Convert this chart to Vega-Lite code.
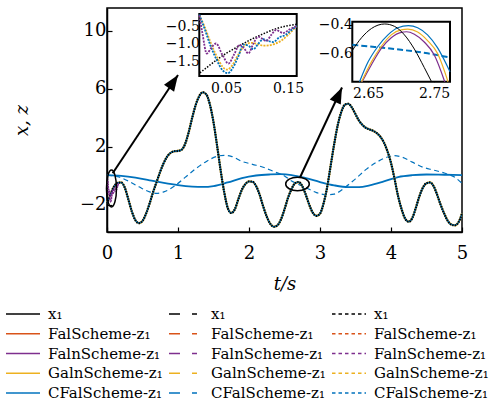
{
"$schema": "https://vega.github.io/schema/vega-lite/v6.json",
"width": 355, "height": 224,
"autosize": {"type": "none"},
"padding": {"left": 107, "top": 8, "right": 35, "bottom": 171},
"background": "white",
"config": {
  "font": "DejaVu Serif",
  "view": {"stroke": "black", "strokeWidth": 1.5},
  "axis": {"grid": false, "domainColor": "black", "domainWidth": 1.5, "tickColor": "black", "tickWidth": 1.2, "labelColor": "black", "labelFont": "DejaVu Serif", "titleFont": "DejaVu Serif", "titleColor": "black", "titleFontWeight": "normal", "zindex": 1, "labelOverlap": false, "labelFlush": false, "labelBound": false},
  "legend": {"labelFont": "DejaVu Serif"},
  "line": {"interpolate": "monotone"}
},
"datasets": {
  "big": [{"t":0,"v":-1.9},{"t":0.05,"v":-1.27},{"t":0.1,"v":-0.72},{"t":0.15,"v":-0.47},{"t":0.2,"v":-0.45},{"t":0.25,"v":-0.8},{"t":0.3,"v":-1.6},{"t":0.35,"v":-2.45},{"t":0.4,"v":-3.05},{"t":0.45,"v":-3.25},{"t":0.5,"v":-3.1},{"t":0.55,"v":-2.6},{"t":0.6,"v":-1.9},{"t":0.65,"v":-1.1},{"t":0.7,"v":-0.4},{"t":0.75,"v":0.3},{"t":0.8,"v":0.9},{"t":0.85,"v":1.35},{"t":0.9,"v":1.6},{"t":0.95,"v":1.7},{"t":1.0,"v":1.72},{"t":1.05,"v":1.8},{"t":1.1,"v":2.2},{"t":1.15,"v":3.0},{"t":1.2,"v":4.0},{"t":1.25,"v":4.9},{"t":1.3,"v":5.5},{"t":1.35,"v":5.76},{"t":1.4,"v":5.6},{"t":1.45,"v":4.9},{"t":1.5,"v":3.7},{"t":1.55,"v":2.1},{"t":1.6,"v":0.4},{"t":1.65,"v":-1.1},{"t":1.7,"v":-2.2},{"t":1.75,"v":-2.55},{"t":1.8,"v":-2.3},{"t":1.85,"v":-1.6},{"t":1.9,"v":-0.95},{"t":1.95,"v":-0.55},{"t":2.0,"v":-0.38},{"t":2.05,"v":-0.4},{"t":2.1,"v":-0.7},{"t":2.15,"v":-1.3},{"t":2.2,"v":-2.1},{"t":2.25,"v":-2.8},{"t":2.3,"v":-3.3},{"t":2.35,"v":-3.5},{"t":2.4,"v":-3.4},{"t":2.45,"v":-3.0},{"t":2.5,"v":-2.3},{"t":2.55,"v":-1.5},{"t":2.6,"v":-0.9},{"t":2.65,"v":-0.5},{"t":2.7,"v":-0.42},{"t":2.75,"v":-0.7},{"t":2.8,"v":-1.3},{"t":2.85,"v":-2.0},{"t":2.9,"v":-2.55},{"t":2.95,"v":-2.75},{"t":3.0,"v":-2.6},{"t":3.05,"v":-1.9},{"t":3.1,"v":-0.8},{"t":3.15,"v":0.7},{"t":3.2,"v":2.2},{"t":3.25,"v":3.5},{"t":3.3,"v":4.4},{"t":3.35,"v":4.9},{"t":3.4,"v":4.97},{"t":3.45,"v":4.7},{"t":3.5,"v":4.25},{"t":3.55,"v":3.8},{"t":3.6,"v":3.5},{"t":3.65,"v":3.3},{"t":3.7,"v":3.2},{"t":3.75,"v":3.1},{"t":3.8,"v":2.95},{"t":3.85,"v":2.7},{"t":3.9,"v":2.3},{"t":3.95,"v":1.7},{"t":4.0,"v":0.9},{"t":4.05,"v":-0.2},{"t":4.1,"v":-1.4},{"t":4.15,"v":-2.3},{"t":4.2,"v":-2.95},{"t":4.25,"v":-3.15},{"t":4.3,"v":-2.9},{"t":4.35,"v":-2.2},{"t":4.4,"v":-1.4},{"t":4.45,"v":-0.8},{"t":4.5,"v":-0.5},{"t":4.55,"v":-0.45},{"t":4.6,"v":-0.7},{"t":4.65,"v":-1.3},{"t":4.7,"v":-2.0},{"t":4.75,"v":-2.6},{"t":4.8,"v":-3.1},{"t":4.85,"v":-3.35},{"t":4.9,"v":-3.4},{"t":4.95,"v":-3.2},{"t":5.0,"v":-2.6}],
  "cfS": [{"t":0,"v":0.05},{"t":0.2,"v":0.0},{"t":0.4,"v":-0.12},{"t":0.6,"v":-0.3},{"t":0.8,"v":-0.48},{"t":1.0,"v":-0.63},{"t":1.2,"v":-0.73},{"t":1.35,"v":-0.76},{"t":1.5,"v":-0.7},{"t":1.7,"v":-0.45},{"t":1.9,"v":-0.15},{"t":2.1,"v":0.03},{"t":2.3,"v":0.1},{"t":2.45,"v":0.12},{"t":2.6,"v":0.06},{"t":2.8,"v":-0.15},{"t":3.0,"v":-0.42},{"t":3.2,"v":-0.65},{"t":3.4,"v":-0.77},{"t":3.55,"v":-0.77},{"t":3.7,"v":-0.65},{"t":3.9,"v":-0.38},{"t":4.1,"v":-0.08},{"t":4.3,"v":0.05},{"t":4.5,"v":0.1},{"t":4.75,"v":0.08},{"t":5.0,"v":0.06}],
  "cfD": [{"t":0,"v":0.05},{"t":0.15,"v":-0.05},{"t":0.3,"v":-0.35},{"t":0.45,"v":-0.75},{"t":0.6,"v":-1.1},{"t":0.7,"v":-1.2},{"t":0.8,"v":-1.1},{"t":0.95,"v":-0.7},{"t":1.1,"v":-0.1},{"t":1.25,"v":0.5},{"t":1.4,"v":1.0},{"t":1.55,"v":1.35},{"t":1.65,"v":1.42},{"t":1.75,"v":1.35},{"t":1.9,"v":1.0},{"t":2.05,"v":0.8},{"t":2.2,"v":0.6},{"t":2.35,"v":0.3},{"t":2.5,"v":0.0},{"t":2.6,"v":-0.35},{"t":2.7,"v":-0.58},{"t":2.8,"v":-0.8},{"t":2.95,"v":-1.15},{"t":3.1,"v":-1.3},{"t":3.2,"v":-1.25},{"t":3.35,"v":-0.8},{"t":3.5,"v":-0.2},{"t":3.65,"v":0.45},{"t":3.8,"v":0.95},{"t":3.95,"v":1.3},{"t":4.05,"v":1.4},{"t":4.15,"v":1.3},{"t":4.3,"v":0.95},{"t":4.45,"v":0.6},{"t":4.6,"v":0.4},{"t":4.75,"v":0.2},{"t":4.9,"v":-0.1},{"t":5.0,"v":-0.5}],
  "in1": [
    {"s":"x1","t":0.008,"v":-1.81},{"s":"x1","t":0.02,"v":-1.65},{"s":"x1","t":0.035,"v":-1.45},{"s":"x1","t":0.05,"v":-1.27},{"s":"x1","t":0.07,"v":-1.07},{"s":"x1","t":0.09,"v":-0.88},{"s":"x1","t":0.11,"v":-0.72},{"s":"x1","t":0.13,"v":-0.58},{"s":"x1","t":0.15,"v":-0.49},{"s":"x1","t":0.164,"v":-0.45},
    {"s":"Galn","t":0.007,"v":-0.2},{"s":"Galn","t":0.015,"v":-0.5},{"s":"Galn","t":0.025,"v":-0.95},{"s":"Galn","t":0.035,"v":-1.35},{"s":"Galn","t":0.045,"v":-1.65},{"s":"Galn","t":0.052,"v":-1.72},{"s":"Galn","t":0.06,"v":-1.6},{"s":"Galn","t":0.07,"v":-1.3},{"s":"Galn","t":0.08,"v":-1.05},{"s":"Galn","t":0.09,"v":-0.97},{"s":"Galn","t":0.1,"v":-1.0},{"s":"Galn","t":0.11,"v":-1.05},{"s":"Galn","t":0.12,"v":-1.04},{"s":"Galn","t":0.13,"v":-0.99},{"s":"Galn","t":0.14,"v":-0.9},{"s":"Galn","t":0.15,"v":-0.75},{"s":"Galn","t":0.164,"v":-0.5},
    {"s":"CFal","t":0.007,"v":-0.18},{"s":"CFal","t":0.015,"v":-0.55},{"s":"CFal","t":0.025,"v":-1.05},{"s":"CFal","t":0.035,"v":-1.45},{"s":"CFal","t":0.045,"v":-1.75},{"s":"CFal","t":0.053,"v":-1.82},{"s":"CFal","t":0.06,"v":-1.7},{"s":"CFal","t":0.07,"v":-1.35},{"s":"CFal","t":0.078,"v":-1.02},{"s":"CFal","t":0.086,"v":-1.05},{"s":"CFal","t":0.094,"v":-1.15},{"s":"CFal","t":0.102,"v":-1.0},{"s":"CFal","t":0.11,"v":-0.87},{"s":"CFal","t":0.118,"v":-0.92},{"s":"CFal","t":0.126,"v":-0.95},{"s":"CFal","t":0.136,"v":-0.82},{"s":"CFal","t":0.146,"v":-0.75},{"s":"CFal","t":0.155,"v":-0.62},{"s":"CFal","t":0.164,"v":-0.5},
    {"s":"Faln","t":0.007,"v":-0.2},{"s":"Faln","t":0.012,"v":-0.7},{"s":"Faln","t":0.019,"v":-1.27},{"s":"Faln","t":0.026,"v":-1.12},{"s":"Faln","t":0.034,"v":-0.99},{"s":"Faln","t":0.044,"v":-1.3},{"s":"Faln","t":0.054,"v":-1.55},{"s":"Faln","t":0.063,"v":-1.3},{"s":"Faln","t":0.072,"v":-1.03},{"s":"Faln","t":0.079,"v":-1.12},{"s":"Faln","t":0.086,"v":-1.27},{"s":"Faln","t":0.094,"v":-1.0},{"s":"Faln","t":0.102,"v":-0.8},{"s":"Faln","t":0.108,"v":-0.85},{"s":"Faln","t":0.115,"v":-0.92},{"s":"Faln","t":0.123,"v":-0.75},{"s":"Faln","t":0.131,"v":-0.61},{"s":"Faln","t":0.137,"v":-0.66},{"s":"Faln","t":0.142,"v":-0.7},{"s":"Faln","t":0.152,"v":-0.6},{"s":"Faln","t":0.164,"v":-0.5}
  ],
  "in2": [
    {"s":"x1","t":2.626,"v":-0.58},{"s":"x1","t":2.64,"v":-0.49},{"s":"x1","t":2.655,"v":-0.425},{"s":"x1","t":2.675,"v":-0.393},{"s":"x1","t":2.69,"v":-0.41},{"s":"x1","t":2.705,"v":-0.47},{"s":"x1","t":2.72,"v":-0.57},{"s":"x1","t":2.735,"v":-0.7},{"s":"x1","t":2.746,"v":-0.8},
    {"s":"CFal","t":2.637,"v":-0.8},{"s":"CFal","t":2.65,"v":-0.66},{"s":"CFal","t":2.665,"v":-0.55},{"s":"CFal","t":2.68,"v":-0.47},{"s":"CFal","t":2.695,"v":-0.42},{"s":"CFal","t":2.711,"v":-0.405},{"s":"CFal","t":2.725,"v":-0.42},{"s":"CFal","t":2.74,"v":-0.47},{"s":"CFal","t":2.755,"v":-0.56},{"s":"CFal","t":2.774,"v":-0.73},
    {"s":"Galn","t":2.64,"v":-0.8},{"s":"Galn","t":2.655,"v":-0.66},{"s":"Galn","t":2.67,"v":-0.55},{"s":"Galn","t":2.685,"v":-0.47},{"s":"Galn","t":2.7,"v":-0.435},{"s":"Galn","t":2.71,"v":-0.43},{"s":"Galn","t":2.725,"v":-0.45},{"s":"Galn","t":2.74,"v":-0.51},{"s":"Galn","t":2.755,"v":-0.6},{"s":"Galn","t":2.771,"v":-0.8},
    {"s":"Faln","t":2.641,"v":-0.8},{"s":"Faln","t":2.655,"v":-0.68},{"s":"Faln","t":2.67,"v":-0.565},{"s":"Faln","t":2.685,"v":-0.49},{"s":"Faln","t":2.7,"v":-0.452},{"s":"Faln","t":2.708,"v":-0.448},{"s":"Faln","t":2.72,"v":-0.465},{"s":"Faln","t":2.735,"v":-0.52},{"s":"Faln","t":2.75,"v":-0.61},{"s":"Faln","t":2.766,"v":-0.8},
    {"s":"CFalD","t":2.626,"v":-0.54},{"s":"CFalD","t":2.66,"v":-0.555},{"s":"CFalD","t":2.7,"v":-0.575},{"s":"CFalD","t":2.74,"v":-0.6},{"s":"CFalD","t":2.774,"v":-0.63}
  ],
  "frame1": [{"t0":0.007,"t1":0.164,"v0":-1.9,"v1":-0.164}],
  "frame2": [{"t0":2.626,"t1":2.774,"v0":-0.8,"v1":-0.377}],
  "arrows": [{"t":0.08,"v":0.18,"t2":1.0,"v2":6.95},{"t":2.718,"v":-0.107,"t2":3.31,"v2":6.09}],
  "head1": [{"t":1.0,"v":6.95}],
  "head2": [{"t":3.31,"v":6.09}],
  "ell1": [{"t":0.063,"v":-0.86}],
  "ell2": [{"t":2.683,"v":-0.554}],
  "legend": [{"k":"S:x₁","t":0,"v":0},{"k":"D:x₁","t":0,"v":0},{"k":"P:x₁","t":0,"v":0},{"k":"S:FalScheme-z₁","t":0,"v":0},{"k":"D:FalScheme-z₁","t":0,"v":0},{"k":"P:FalScheme-z₁","t":0,"v":0},{"k":"S:FalnScheme-z₁","t":0,"v":0},{"k":"D:FalnScheme-z₁","t":0,"v":0},{"k":"P:FalnScheme-z₁","t":0,"v":0},{"k":"S:GalnScheme-z₁","t":0,"v":0},{"k":"D:GalnScheme-z₁","t":0,"v":0},{"k":"P:GalnScheme-z₁","t":0,"v":0},{"k":"S:CFalScheme-z₁","t":0,"v":0},{"k":"D:CFalScheme-z₁","t":0,"v":0},{"k":"P:CFalScheme-z₁","t":0,"v":0}]
},
"layer": [
 {"layer": [
  {"data": {"name": "cfS"}, "mark": {"type": "line", "color": "#0072BD", "strokeWidth": 1.8},
   "encoding": {
    "x": {"field": "t", "type": "quantitative", "scale": {"domain": [0, 5], "nice": false, "zero": false},
          "axis": {"orient": "bottom", "values": [0,1,2,3,4,5], "format": "d", "tickSize": -5, "labelFont": "DejaVu Serif", "titleFont": "DejaVu Serif", "labelFontSize": 18, "labelPadding": 17, "title": "t/s", "titleFontSize": 18, "titleFontStyle": "italic", "titlePadding": 13}},
    "y": {"field": "v", "type": "quantitative", "scale": {"domain": [-3.86, 11.56], "nice": false, "zero": false},
          "axis": {"orient": "left", "values": [-2,2,6,10], "format": "d", "tickSize": -5, "labelFont": "DejaVu Serif", "titleFont": "DejaVu Serif", "labelFontSize": 18, "labelPadding": 6, "title": "x, z", "titleFontSize": 18, "titleFontStyle": "italic", "titlePadding": 48}}
   }},
  {"data": {"name": "cfD"}, "mark": {"type": "line", "color": "#0072BD", "strokeWidth": 1.2, "strokeDash": [5, 3.5]},
   "encoding": {"x": {"field": "t", "type": "quantitative"}, "y": {"field": "v", "type": "quantitative"}}},
  {"data": {"name": "big"}, "mark": {"type": "line", "color": "#EDB120", "strokeWidth": 2.2},
   "encoding": {"x": {"field": "t", "type": "quantitative"}, "y": {"field": "v", "type": "quantitative"}}},
  {"data": {"name": "big"}, "mark": {"type": "line", "color": "#0072BD", "strokeWidth": 1.6},
   "encoding": {"x": {"field": "t", "type": "quantitative"}, "y": {"field": "v", "type": "quantitative"}}},
  {"data": {"name": "big"}, "mark": {"type": "line", "color": "#000000", "strokeWidth": 2.2, "strokeDash": [1.3, 1.2]},
   "encoding": {"x": {"field": "t", "type": "quantitative"}, "y": {"field": "v", "type": "quantitative"}}},
  {"data": {"name": "in1"}, "transform": [{"filter": "datum.s != 'x1'"}], "mark": {"type": "line", "strokeWidth": 1.2, "strokeDash": [1.5, 1]},
   "encoding": {"x": {"field": "t", "type": "quantitative"}, "y": {"field": "v", "type": "quantitative"}, "detail": {"field": "s"}, "stroke": {"value": "#7E2F8E"}}},
  {"data": {"name": "ell1"}, "mark": {"type": "point", "filled": false, "color": "black", "strokeWidth": 1.5, "opacity": 1, "size": 1369, "shape": "M0,-1 A0.27,1 0 1,1 0,1 A0.27,1 0 1,1 0,-1 Z"},
   "encoding": {"x": {"field": "t", "type": "quantitative"}, "y": {"field": "v", "type": "quantitative"}}},
  {"data": {"name": "ell2"}, "mark": {"type": "point", "filled": false, "color": "black", "strokeWidth": 1.5, "opacity": 1, "size": 557, "shape": "M-1,0 A1,0.57 0 1,1 1,0 A1,0.57 0 1,1 -1,0 Z"},
   "encoding": {"x": {"field": "t", "type": "quantitative"}, "y": {"field": "v", "type": "quantitative"}}},
  {"data": {"name": "arrows"}, "mark": {"type": "rule", "color": "black", "strokeWidth": 2},
   "encoding": {"x": {"field": "t", "type": "quantitative"}, "y": {"field": "v", "type": "quantitative"}, "x2": {"field": "t2"}, "y2": {"field": "v2"}}},
  {"data": {"name": "head1"}, "mark": {"type": "point", "filled": true, "color": "black", "opacity": 1, "size": 1024, "angle": 34, "shape": "M0,0 L0.38,1 L-0.38,1 Z"},
   "encoding": {"x": {"field": "t", "type": "quantitative"}, "y": {"field": "v", "type": "quantitative"}}},
  {"data": {"name": "head2"}, "mark": {"type": "point", "filled": true, "color": "black", "opacity": 1, "size": 1024, "angle": 25, "shape": "M0,0 L0.38,1 L-0.38,1 Z"},
   "encoding": {"x": {"field": "t", "type": "quantitative"}, "y": {"field": "v", "type": "quantitative"}}},
  {"data": {"name": "legend"}, "mark": {"type": "line", "strokeWidth": 1.5},
   "encoding": {
    "x": {"field": "t", "type": "quantitative"}, "y": {"field": "v", "type": "quantitative"},
    "color": {"field": "k", "type": "nominal",
      "scale": {"domain": ["S:x₁","S:FalScheme-z₁","S:FalnScheme-z₁","S:GalnScheme-z₁","S:CFalScheme-z₁","D:x₁","D:FalScheme-z₁","D:FalnScheme-z₁","D:GalnScheme-z₁","D:CFalScheme-z₁","P:x₁","P:FalScheme-z₁","P:FalnScheme-z₁","P:GalnScheme-z₁","P:CFalScheme-z₁"],
                "range": ["#000000","#D95319","#7E2F8E","#EDB120","#0072BD","#000000","#D95319","#7E2F8E","#EDB120","#0072BD","#000000","#D95319","#7E2F8E","#EDB120","#0072BD"]},
      "legend": {"orient": "none", "legendX": -92, "legendY": 298, "columns": 3, "title": null, "symbolType": "M-2.5,0H2.5", "symbolSize": 185, "symbolStrokeWidth": 1.5, "labelOffset": 17, "labelFont": "DejaVu Serif", "labelFontSize": 15, "labelColor": "black", "labelExpr": "substring(datum.label, 2)", "rowPadding": 3.75, "columnPadding": 2, "padding": 0, "labelLimit": 300, "symbolLimit": 0}},
    "strokeDash": {"field": "k", "type": "nominal",
      "scale": {"domain": ["S:x₁","S:FalScheme-z₁","S:FalnScheme-z₁","S:GalnScheme-z₁","S:CFalScheme-z₁","D:x₁","D:FalScheme-z₁","D:FalnScheme-z₁","D:GalnScheme-z₁","D:CFalScheme-z₁","P:x₁","P:FalScheme-z₁","P:FalnScheme-z₁","P:GalnScheme-z₁","P:CFalScheme-z₁"],
                "range": [[1,0],[1,0],[1,0],[1,0],[1,0],[11,12,5,10],[11,12,5,10],[11,12,5,10],[11,12,5,10],[11,12,5,10],[3.5,3],[3.5,3],[3.5,3],[3.5,3],[3.5,3]]},
      "legend": {"orient": "none", "legendX": -92, "legendY": 298, "columns": 3, "title": null, "symbolType": "M-2.5,0H2.5", "symbolSize": 185, "symbolStrokeWidth": 1.5, "labelOffset": 17, "labelFont": "DejaVu Serif", "labelFontSize": 15, "labelColor": "black", "labelExpr": "substring(datum.label, 2)", "rowPadding": 3.75, "columnPadding": 2, "padding": 0, "labelLimit": 300, "symbolLimit": 0}}
   }}
 ]},
 {"layer": [
  {"data": {"name": "frame1"}, "mark": {"type": "rect", "fill": "white", "stroke": "black", "strokeWidth": 2},
   "encoding": {
    "x": {"field": "t0", "type": "quantitative", "scale": {"domain": [0.007, 0.164], "range": [92.3, 189.7], "nice": false, "zero": false},
          "axis": {"orient": "bottom", "offset": -156, "values": [0.05, 0.15], "format": ".2f", "title": null, "tickSize": -4, "domain": false, "labelFont": "DejaVu Serif", "labelFontSize": 14, "labelPadding": 9}},
    "x2": {"field": "t1"},
    "y": {"field": "v0", "type": "quantitative", "scale": {"domain": [-1.9, -0.164], "range": [68, 6], "nice": false, "zero": false},
          "axis": {"orient": "left", "offset": -92.3, "values": [-0.5, -1.0, -1.5], "format": ".1f", "title": null, "tickSize": -4, "domain": false, "labelFont": "DejaVu Serif", "labelFontSize": 14, "labelPadding": 4}},
    "y2": {"field": "v1"}
   }},
  {"data": {"name": "in1"}, "transform": [{"filter": "datum.s == 'x1'"}], "mark": {"type": "line", "color": "black", "strokeWidth": 1.5, "strokeDash": [1.5, 1.5]},
   "encoding": {"x": {"field": "t", "type": "quantitative"}, "y": {"field": "v", "type": "quantitative"}}},
  {"data": {"name": "in1"}, "transform": [{"filter": "datum.s == 'Galn'"}], "mark": {"type": "line", "color": "#EDB120", "strokeWidth": 1.8, "strokeDash": [2, 1.2]},
   "encoding": {"x": {"field": "t", "type": "quantitative"}, "y": {"field": "v", "type": "quantitative"}}},
  {"data": {"name": "in1"}, "transform": [{"filter": "datum.s == 'CFal'"}], "mark": {"type": "line", "color": "#0072BD", "strokeWidth": 1.8, "strokeDash": [2, 1.2]},
   "encoding": {"x": {"field": "t", "type": "quantitative"}, "y": {"field": "v", "type": "quantitative"}}},
  {"data": {"name": "in1"}, "transform": [{"filter": "datum.s == 'Faln'"}], "mark": {"type": "line", "color": "#7E2F8E", "strokeWidth": 1.8, "strokeDash": [2, 1.2]},
   "encoding": {"x": {"field": "t", "type": "quantitative"}, "y": {"field": "v", "type": "quantitative"}}}
 ]},
 {"layer": [
  {"data": {"name": "frame2"}, "mark": {"type": "rect", "fill": "white", "stroke": "black", "strokeWidth": 2},
   "encoding": {
    "x": {"field": "t0", "type": "quantitative", "scale": {"domain": [2.626, 2.774], "range": [245.3, 343], "nice": false, "zero": false},
          "axis": {"orient": "bottom", "offset": -150.3, "values": [2.65, 2.75], "format": ".2f", "title": null, "tickSize": -4, "domain": false, "labelFont": "DejaVu Serif", "labelFontSize": 14, "labelPadding": 9}},
    "x2": {"field": "t1"},
    "y": {"field": "v0", "type": "quantitative", "scale": {"domain": [-0.8, -0.377], "range": [73.7, 13.7], "nice": false, "zero": false},
          "axis": {"orient": "left", "offset": -245.3, "values": [-0.4, -0.6], "format": ".1f", "title": null, "tickSize": -4, "domain": false, "labelFont": "DejaVu Serif", "labelFontSize": 14, "labelPadding": 4}},
    "y2": {"field": "v1"}
   }},
  {"data": {"name": "in2"}, "transform": [{"filter": "datum.s == 'CFalD'"}], "mark": {"type": "line", "color": "#0072BD", "strokeWidth": 2, "strokeDash": [6, 3]},
   "encoding": {"x": {"field": "t", "type": "quantitative"}, "y": {"field": "v", "type": "quantitative"}}},
  {"data": {"name": "in2"}, "transform": [{"filter": "datum.s == 'Faln'"}], "mark": {"type": "line", "color": "#7E2F8E", "strokeWidth": 1.2},
   "encoding": {"x": {"field": "t", "type": "quantitative"}, "y": {"field": "v", "type": "quantitative"}}},
  {"data": {"name": "in2"}, "transform": [{"filter": "datum.s == 'Galn'"}], "mark": {"type": "line", "color": "#EDB120", "strokeWidth": 1.2},
   "encoding": {"x": {"field": "t", "type": "quantitative"}, "y": {"field": "v", "type": "quantitative"}}},
  {"data": {"name": "in2"}, "transform": [{"filter": "datum.s == 'CFal'"}], "mark": {"type": "line", "color": "#0072BD", "strokeWidth": 1.2},
   "encoding": {"x": {"field": "t", "type": "quantitative"}, "y": {"field": "v", "type": "quantitative"}}},
  {"data": {"name": "in2"}, "transform": [{"filter": "datum.s == 'x1'"}], "mark": {"type": "line", "color": "black", "strokeWidth": 1},
   "encoding": {"x": {"field": "t", "type": "quantitative"}, "y": {"field": "v", "type": "quantitative"}}}
 ]}
],
"resolve": {"scale": {"x": "independent", "y": "independent"}}
}
